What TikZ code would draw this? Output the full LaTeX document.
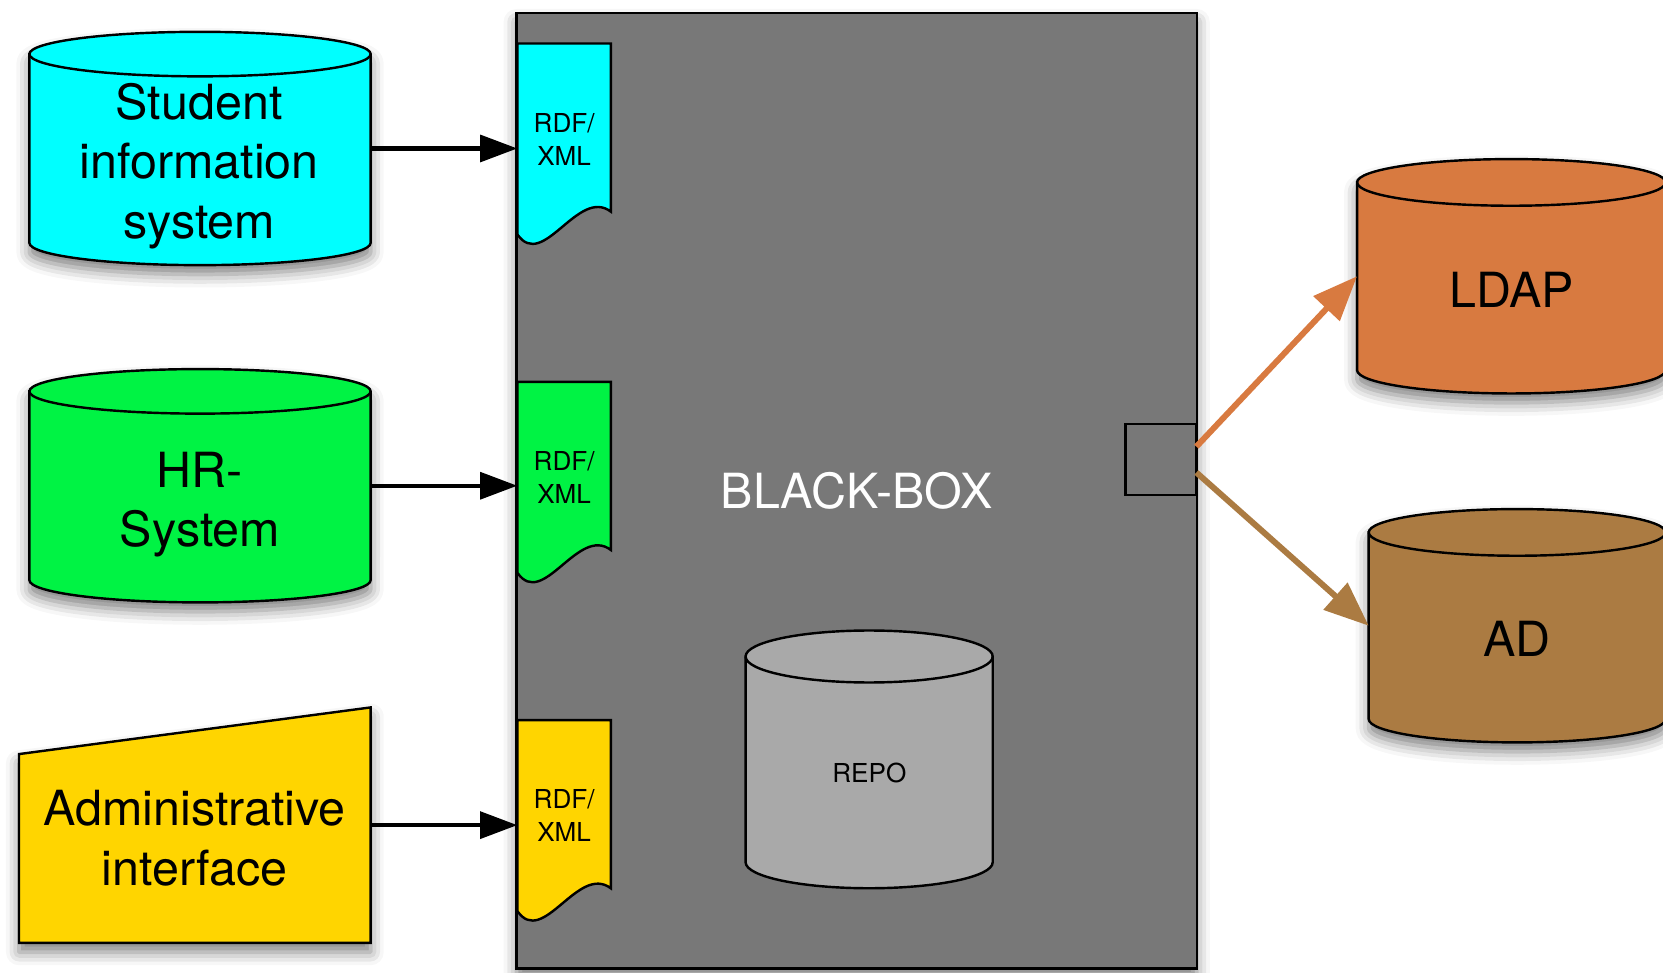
\documentclass[tikz,border=0pt]{standalone}
\usepackage{fontspec}
\setmainfont{TeX Gyre Heros}
\usetikzlibrary{arrows.meta,shadows.blur}

\definecolor{siscyan}{RGB}{0,255,255}
\definecolor{hrgreen}{RGB}{0,243,68}
\definecolor{adminyellow}{RGB}{255,213,0}
\definecolor{ldaporange}{RGB}{216,122,64}
\definecolor{adbrown}{RGB}{171,123,66}
\definecolor{boxgray}{RGB}{120,120,120}
\definecolor{repogray}{RGB}{169,169,169}

\tikzset{
  outline/.style={draw=black, line width=0.65pt},
  softshadow/.style={blur shadow={shadow xshift=0pt, shadow yshift=-2.5pt, shadow blur radius=3.5pt, shadow opacity=50}},
  noshadow/.style={},
  body/.style={inner sep=0pt, outer sep=0pt},
  bigtext/.style={align=center, inner sep=0pt, font=\fontsize{13}{15.9}\selectfont},
  smalltext/.style={align=center, inner sep=0pt, font=\fontsize{7}{8.8}\selectfont},
  feed/.style={black, line width=1.2pt, -{Triangle[length=3.5mm, width=2.5mm]}},
  sync/.style={line width=1.6pt, -{Triangle[length=4.2mm, width=3.3mm]}}
}

\begin{document}
\begin{tikzpicture}
    \useasboundingbox (0, 0) rectangle (15.68, 9.174);

    \node [outline, fill=boxgray, softshadow, body, minimum width=6.413cm, minimum height=9.01cm, text=white, font=\fontsize{13}{15.9}\selectfont] at (8.077, 4.549) (bb) {BLACK-BOX};

    \node [body, minimum width=3.218cm, minimum height=1.78cm] at (1.886, 7.774) (sis) {};
    \node [body, minimum width=3.218cm, minimum height=1.78cm] at (1.886, 4.594) (hr) {};
    \node [body, minimum width=3.316cm, minimum height=2.22cm] at (1.837, 1.394) (admin) {};
    \node [body, minimum width=2.33cm, minimum height=1.94cm] at (8.195, 2.014) (repo) {};
    \node [body, minimum width=2.91cm, minimum height=1.77cm] at (14.25, 6.569) (ldap) {};
    \node [body, minimum width=2.80cm, minimum height=1.76cm] at (14.305, 3.274) (ad) {};

    \node [body, minimum width=0.882cm, minimum height=1.80cm] at (5.319, 7.864) (sisdoc) {};
    \node [body, minimum width=0.882cm, minimum height=1.80cm] at (5.319, 4.674) (hrdoc) {};
    \node [body, minimum width=0.882cm, minimum height=1.80cm] at (5.319, 1.484) (admindoc) {};

    \foreach \n/\c/\rx/\ry/\s in {sis/siscyan/1.609/0.21/softshadow, hr/hrgreen/1.609/0.21/softshadow, repo/repogray/1.165/0.245/noshadow, ldap/ldaporange/1.455/0.22/softshadow, ad/adbrown/1.40/0.22/softshadow} {
        \draw [outline, fill=\c, \s] (\n.north west) -- (\n.south west) arc [start angle=180, end angle=360, x radius=\rx, y radius=\ry] -- (\n.north east) arc [start angle=0, end angle=180, x radius=\rx, y radius=\ry] -- cycle;
        \draw [outline] (\n.north west) arc [start angle=180, end angle=360, x radius=\rx, y radius=\ry];
    }

    \draw [outline, fill=adminyellow, softshadow] (admin.south west) -- ([yshift=-4.4mm]admin.north west) -- (admin.north east) -- (admin.south east) -- cycle;

    \foreach \d/\c in {sisdoc/siscyan, hrdoc/hrgreen, admindoc/adminyellow} {
        \draw [outline, fill=\c] (\d.north west) -- (\d.north east) -- ([yshift=2.14mm]\d.south east) .. controls +(-0.31, 0.236) and +(0.242, -0.35) .. (\d.south west) -- cycle;
    }

    \node [bigtext] at (1.878, 7.609) (sislabel) {Student\\information\\system};
    \node [bigtext] at (1.886, 4.419) (hrlabel) {HR-\\System};
    \node [bigtext] at (1.836, 1.27) (adminlabel) {Administrative\\interface};
    \node [bigtext] at (14.253, 6.44) (ldaplabel) {LDAP};
    \node [bigtext] at (14.305, 3.146) (adlabel) {AD};
    \node [smalltext] at (8.197, 1.884) (repolabel) {REPO};
    \node [smalltext] at (5.319, 7.862) (sisdoclabel) {RDF/\\XML};
    \node [smalltext] at (5.319, 4.672) (hrdoclabel) {RDF/\\XML};
    \node [smalltext] at (5.319, 1.487) (admindoclabel) {RDF/\\XML};

    \node [outline, body, minimum size=6.7mm] at (10.945, 4.841) (port) {};

    \draw [feed] (sis.east) -- (sisdoc.west |- sis.east);
    \draw [feed] (hr.east) -- (hrdoc.west |- hr.east);
    \draw [feed] (admin.east) -- (admindoc.west |- admin.east);
    \draw [sync, draw=ldaporange] (port.20) -- (ldap.west);
    \draw [sync, draw=adbrown] (port.-20) -- (ad.west);
\end{tikzpicture}
\end{document}
